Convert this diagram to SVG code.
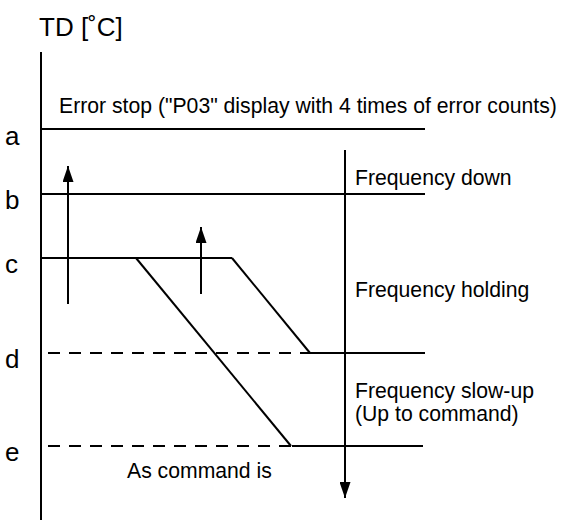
<svg xmlns="http://www.w3.org/2000/svg" width="570" height="522" viewBox="0 0 570 522">
<style>
.ln{stroke:#000;stroke-width:2;fill:none}
.ds{stroke:#000;stroke-width:2;fill:none;stroke-dasharray:12 9}
.t{font-family:"Liberation Sans",Arial,sans-serif;fill:#000}
.l{font-size:26px}
.s{font-size:21.2px}
</style>
<defs>
<marker id="ah2" viewBox="0 0 16 11" refX="16" refY="5.5" markerWidth="16" markerHeight="11" markerUnits="userSpaceOnUse" orient="auto">
<path d="M0,0 L16,5.5 L0,11 Z" fill="#000"/>
</marker>
</defs>
<g id="labels">
<text class="t l" x="39" y="36">TD [˚C]</text>
<text class="t s" x="59" y="113">Error stop ("P03" display with 4 times of error counts)</text>
<text class="t l" x="5" y="145">a</text>
<text class="t l" x="5" y="209">b</text>
<text class="t l" x="5" y="273">c</text>
<text class="t l" x="5" y="368">d</text>
<text class="t l" x="5" y="461">e</text>
<text class="t s" x="355" y="185">Frequency down</text>
<text class="t s" x="355" y="297">Frequency holding</text>
<text class="t s" x="355" y="398">Frequency slow-up</text>
<text class="t s" x="355" y="421">(Up to command)</text>
<text class="t s" x="127" y="478">As command is</text>
</g>
<g id="axis">
<line class="ln" x1="41" y1="52" x2="41" y2="520"/>
</g>
<g id="levels">
<line class="ln" x1="41" y1="129" x2="425" y2="129"/>
<line class="ln" x1="41" y1="194" x2="425" y2="194"/>
<line class="ln" x1="41" y1="258" x2="232" y2="258"/>
<line class="ds" x1="48" y1="353" x2="310" y2="353"/>
<line class="ln" x1="310" y1="353" x2="425" y2="353"/>
<line class="ds" x1="48" y1="446" x2="292" y2="446"/>
<line class="ln" x1="292" y1="446" x2="423" y2="446"/>
</g>
<g id="connectors">
<line class="ln" x1="136" y1="258" x2="291" y2="446"/>
<line class="ln" x1="232" y1="258" x2="310" y2="353"/>
<line class="ln" x1="68" y1="304" x2="68" y2="166" marker-end="url(#ah2)"/>
<line class="ln" x1="201" y1="294" x2="201" y2="227" marker-end="url(#ah2)"/>
<line class="ln" x1="345" y1="150" x2="345" y2="498" marker-end="url(#ah2)"/>
</g>
</svg>
